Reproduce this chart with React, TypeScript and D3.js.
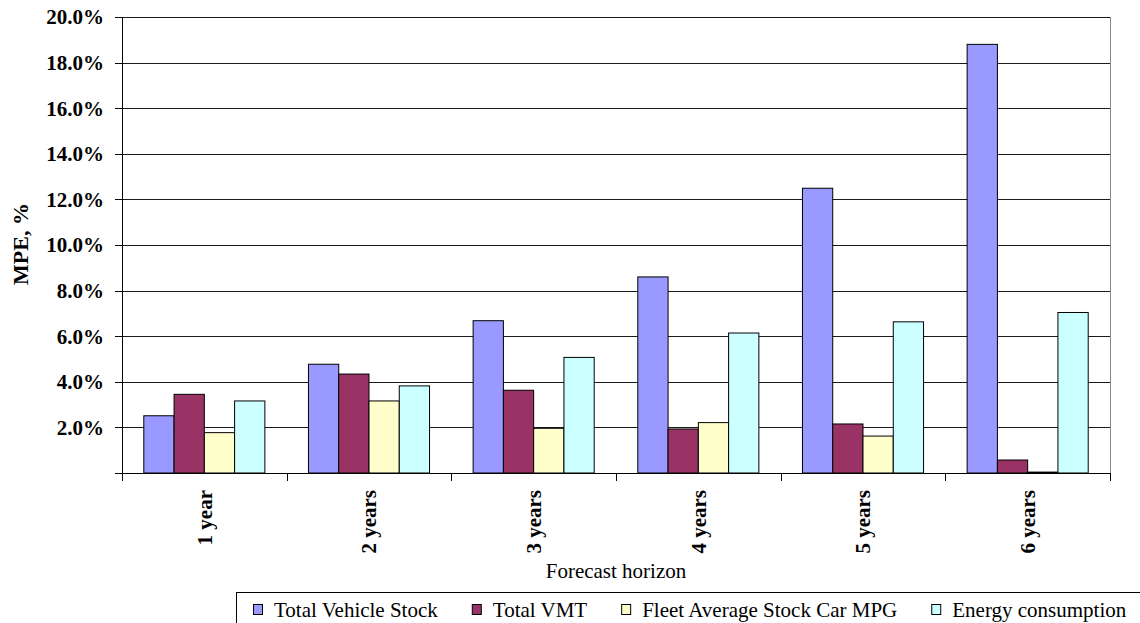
import React, { useEffect, useRef } from "react";
import * as d3 from "d3";

// Forecast horizons (x categories)
const horizons = ["1 year", "2 years", "3 years", "4 years", "5 years", "6 years"];

// Series names, in drawing / legend order
const seriesNames = [
  "Total Vehicle Stock",
  "Total VMT",
  "Fleet Average Stock Car MPG",
  "Energy consumption",
];

// Mean percentage error per horizon, in percent
const totalVehicleStock = [2.51, 4.77, 6.68, 8.6, 12.49, 18.8];
const totalVMT = [3.45, 4.34, 3.63, 1.93, 2.15, 0.57];
const fleetAvgMPG = [1.77, 3.16, 1.96, 2.21, 1.62, 0.04];
const energyConsumption = [3.16, 3.82, 5.07, 6.14, 6.63, 7.04];

const seriesColors = ["#9999FF", "#993366", "#FFFFCC", "#CCFFFF"];

// Y axis ticks, in percent
const yTicks = [0, 2, 4, 6, 8, 10, 12, 14, 16, 18, 20];

const W = 1140;
const H = 623;
const FONT = "'Liberation Serif', 'Times New Roman', serif";

export default function App() {
  const ref = useRef<SVGSVGElement | null>(null);

  useEffect(() => {
    const svg = d3.select(ref.current);
    svg.selectAll("*").remove();

    const left = 122;
    const right = 1110;
    const top = 17;
    const bottom = 473;

    const values = [totalVehicleStock, totalVMT, fleetAvgMPG, energyConsumption];

    const x = d3.scaleBand<string>().domain(horizons).range([left, right]).paddingInner(0).paddingOuter(0);
    const xs = d3
      .scaleBand<string>()
      .domain(seriesNames)
      .range([0, x.bandwidth()])
      .paddingInner(0)
      .paddingOuter(0.72);
    const y = d3.scaleLinear().domain([0, 20]).range([bottom, top]);

    // gridlines
    svg
      .append("g")
      .selectAll("line")
      .data(yTicks.filter((t) => t > 0))
      .join("line")
      .attr("x1", left)
      .attr("x2", right)
      .attr("y1", (d) => Math.round(y(d)) + 0.5)
      .attr("y2", (d) => Math.round(y(d)) + 0.5)
      .attr("stroke", "#1a1a1a")
      .attr("stroke-width", 1);

    // right border of plot area
    svg
      .append("line")
      .attr("x1", right + 0.5)
      .attr("x2", right + 0.5)
      .attr("y1", top)
      .attr("y2", bottom)
      .attr("stroke", "#888")
      .attr("stroke-width", 1);

    // bars
    const gBars = svg.append("g");
    horizons.forEach((h, i) => {
      seriesNames.forEach((s, j) => {
        const v = values[j][i];
        const x0 = (x(h) as number) + (xs(s) as number);
        gBars
          .append("rect")
          .attr("x", x0)
          .attr("y", y(v))
          .attr("width", xs.bandwidth())
          .attr("height", Math.max(0, y(0) - y(v)))
          .attr("fill", seriesColors[j])
          .attr("stroke", "#000")
          .attr("stroke-width", 1);
      });
    });

    // y axis
    const yAxis = svg.append("g");
    yAxis
      .append("line")
      .attr("x1", left + 0.5)
      .attr("x2", left + 0.5)
      .attr("y1", top)
      .attr("y2", bottom + 8)
      .attr("stroke", "#000");
    yAxis
      .selectAll("line.tick")
      .data(yTicks)
      .join("line")
      .attr("class", "tick")
      .attr("x1", left - 7)
      .attr("x2", left)
      .attr("y1", (d) => Math.round(y(d)) + 0.5)
      .attr("y2", (d) => Math.round(y(d)) + 0.5)
      .attr("stroke", "#000");
    yAxis
      .selectAll("text")
      .data(yTicks.filter((t) => t > 0))
      .join("text")
      .attr("x", 104)
      .attr("y", (d) => y(d))
      .attr("dy", "0.35em")
      .attr("text-anchor", "end")
      .attr("font-family", FONT)
      .attr("font-weight", "bold")
      .attr("font-size", 21)
      .text((d) => d3.format(".1f")(d) + "%");

    // x axis
    const xAxis = svg.append("g");
    xAxis
      .append("line")
      .attr("x1", left - 7)
      .attr("x2", right)
      .attr("y1", bottom + 0.5)
      .attr("y2", bottom + 0.5)
      .attr("stroke", "#000");
    const boundaries = horizons.map((h) => x(h) as number).concat([right]);
    xAxis
      .selectAll("line.tick")
      .data(boundaries)
      .join("line")
      .attr("class", "tick")
      .attr("x1", (d) => Math.round(d) + 0.5)
      .attr("x2", (d) => Math.round(d) + 0.5)
      .attr("y1", bottom)
      .attr("y2", bottom + 8)
      .attr("stroke", "#000");
    xAxis
      .selectAll("text")
      .data(horizons)
      .join("text")
      .attr("transform", (d) => `translate(${(x(d) as number) + x.bandwidth() / 2},490) rotate(-90)`)
      .attr("dy", "0.35em")
      .attr("text-anchor", "end")
      .attr("font-family", FONT)
      .attr("font-weight", "bold")
      .attr("font-size", 21)
      .text((d) => d);

    // axis titles
    svg
      .append("text")
      .attr("transform", `translate(20,244) rotate(-90)`)
      .attr("dy", "0.35em")
      .attr("text-anchor", "middle")
      .attr("font-family", FONT)
      .attr("font-weight", "bold")
      .attr("font-size", 22)
      .text("MPE, %");
    svg
      .append("text")
      .attr("x", (left + right) / 2)
      .attr("y", 578)
      .attr("text-anchor", "middle")
      .attr("font-family", FONT)
      .attr("font-size", 21)
      .text("Forecast horizon");

    // legend
    const lg = svg.append("g");
    lg.append("rect")
      .attr("x", 236.5)
      .attr("y", 592.5)
      .attr("width", 920)
      .attr("height", 60)
      .attr("fill", "#fff")
      .attr("stroke", "#000");
    let cx = 253;
    seriesNames.forEach((s, j) => {
      lg.append("rect")
        .attr("x", cx + 0.5)
        .attr("y", 604.5)
        .attr("width", 9)
        .attr("height", 10)
        .attr("fill", seriesColors[j])
        .attr("stroke", "#000");
      const t = lg
        .append("text")
        .attr("x", cx + 21)
        .attr("y", 617)
        .attr("font-family", FONT)
        .attr("font-size", 21)
        .text(s);
      const w = (t.node() as SVGTextElement).getComputedTextLength();
      cx = cx + 21 + w + 34;
    });
  }, []);

  return (
    <div style={{ position: "absolute", left: 0, top: 0 }}>
      <svg ref={ref} width={W} height={H} style={{ display: "block", background: "#fff" }} />
    </div>
  );
}
